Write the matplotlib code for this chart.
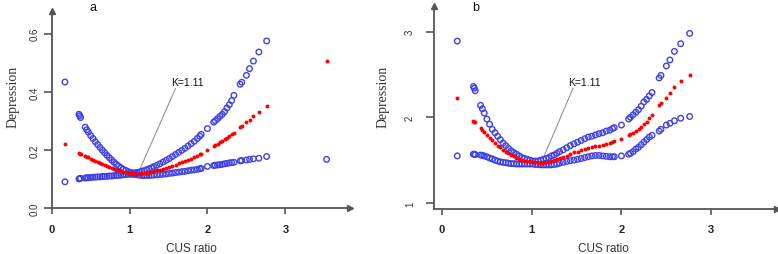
import numpy as np
import matplotlib
matplotlib.use("Agg")
import matplotlib.pyplot as plt

# ---------------- data ----------------
cus_a = [0.17, 0.35, 0.36, 0.37, 0.43, 0.45, 0.47, 0.50, 0.53, 0.56, 0.59, 0.62, 0.65, 0.68,
         0.71, 0.74, 0.77, 0.80, 0.83, 0.86, 0.89, 0.92, 0.95, 0.98, 1.01, 1.04, 1.07, 1.10,
         1.13, 1.16, 1.19, 1.22, 1.25, 1.28, 1.31, 1.35, 1.39, 1.43, 1.47, 1.51, 1.55, 1.59,
         1.63, 1.67, 1.71, 1.75, 1.79, 1.83, 1.87, 1.90, 1.92, 2.00, 2.08, 2.10, 2.13, 2.16,
         2.19, 2.22, 2.25, 2.28, 2.31, 2.34, 2.42, 2.44, 2.50, 2.54, 2.59, 2.66, 2.76, 3.53]
est_a = [0.221, 0.190, 0.188, 0.187, 0.180, 0.177, 0.175, 0.171, 0.167, 0.163, 0.159, 0.155,
         0.152, 0.148, 0.145, 0.142, 0.139, 0.136, 0.133, 0.131, 0.128, 0.126, 0.124, 0.123,
         0.121, 0.120, 0.119, 0.119, 0.119, 0.120, 0.121, 0.122, 0.124, 0.125, 0.127, 0.130,
         0.133, 0.136, 0.139, 0.142, 0.146, 0.150, 0.154, 0.158, 0.162, 0.166, 0.171, 0.176,
         0.181, 0.185, 0.188, 0.201, 0.213, 0.217, 0.222, 0.227, 0.232, 0.237, 0.243, 0.248,
         0.254, 0.260, 0.279, 0.283, 0.296, 0.305, 0.316, 0.332, 0.352, 0.505]
hi_a = [0.434, 0.323, 0.318, 0.312, 0.279, 0.270, 0.262, 0.250, 0.240, 0.229, 0.219, 0.209,
        0.200, 0.191, 0.182, 0.174, 0.166, 0.158, 0.151, 0.145, 0.139, 0.134, 0.130, 0.126,
        0.123, 0.122, 0.122, 0.123, 0.125, 0.127, 0.130, 0.133, 0.136, 0.139, 0.143, 0.148,
        0.153, 0.159, 0.165, 0.171, 0.178, 0.185, 0.192, 0.199, 0.206, 0.214, 0.222, 0.230,
        0.240, 0.248, 0.254, 0.274, 0.296, 0.301, 0.308, 0.316, 0.323, 0.332, 0.345, 0.356,
        0.370, 0.388, 0.426, 0.433, 0.457, 0.480, 0.506, 0.537, 0.575, np.nan]
lo_a = [0.091, 0.101, 0.102, 0.103, 0.104, 0.105, 0.105, 0.106, 0.107, 0.107, 0.108, 0.108,
        0.109, 0.110, 0.110, 0.111, 0.111, 0.112, 0.113, 0.113, 0.114, 0.115, 0.116, 0.117,
        0.117, 0.117, 0.116, 0.115, 0.114, 0.113, 0.113, 0.113, 0.113, 0.114, 0.114, 0.115,
        0.116, 0.117, 0.118, 0.120, 0.121, 0.123, 0.124, 0.126, 0.127, 0.129, 0.131, 0.132,
        0.134, 0.136, 0.137, 0.144, 0.147, 0.148, 0.149, 0.150, 0.151, 0.153, 0.154, 0.156,
        0.157, 0.158, 0.163, 0.164, 0.166, 0.168, 0.170, 0.172, 0.178, 0.168]

cus_b = [0.17, 0.35, 0.36, 0.37, 0.43, 0.45, 0.47, 0.50, 0.53, 0.56, 0.59, 0.62, 0.65, 0.68,
         0.71, 0.74, 0.77, 0.80, 0.83, 0.86, 0.89, 0.92, 0.95, 0.98, 1.01, 1.04, 1.07, 1.10,
         1.13, 1.16, 1.19, 1.22, 1.25, 1.28, 1.31, 1.35, 1.39, 1.43, 1.47, 1.51, 1.55, 1.59,
         1.63, 1.67, 1.71, 1.75, 1.79, 1.83, 1.87, 1.90, 1.92, 2.00, 2.08, 2.10, 2.13, 2.16,
         2.19, 2.22, 2.25, 2.28, 2.31, 2.34, 2.42, 2.44, 2.50, 2.54, 2.59, 2.66, 2.76]
est_b = [2.23, 1.96, 1.95, 1.94, 1.87, 1.85, 1.83, 1.79, 1.76, 1.73, 1.70, 1.67, 1.65, 1.62,
         1.60, 1.58, 1.56, 1.545, 1.53, 1.515, 1.505, 1.495, 1.49, 1.485, 1.48, 1.475, 1.47,
         1.47, 1.47, 1.475, 1.48, 1.49, 1.50, 1.51, 1.52, 1.54, 1.55, 1.57, 1.59, 1.60, 1.62,
         1.63, 1.64, 1.65, 1.66, 1.67, 1.68, 1.69, 1.70, 1.71, 1.72, 1.75, 1.79, 1.80, 1.82,
         1.84, 1.86, 1.89, 1.92, 1.95, 1.99, 2.03, 2.15, 2.17, 2.23, 2.28, 2.35, 2.42, 2.49]
hi_b = [2.89, 2.36, 2.34, 2.31, 2.14, 2.10, 2.05, 1.98, 1.92, 1.86, 1.82, 1.78, 1.74, 1.70,
        1.67, 1.64, 1.61, 1.59, 1.57, 1.55, 1.53, 1.52, 1.51, 1.50, 1.49, 1.49, 1.49, 1.50,
        1.51, 1.52, 1.53, 1.55, 1.56, 1.58, 1.60, 1.62, 1.645, 1.67, 1.69, 1.71, 1.73, 1.75,
        1.77, 1.78, 1.795, 1.81, 1.82, 1.84, 1.85, 1.87, 1.88, 1.91, 1.98, 2.00, 2.03, 2.06,
        2.09, 2.13, 2.18, 2.21, 2.25, 2.29, 2.46, 2.49, 2.60, 2.67, 2.77, 2.86, 2.98]
lo_b = [1.55, 1.57, 1.57, 1.565, 1.56, 1.555, 1.55, 1.54, 1.525, 1.515, 1.50, 1.49, 1.48,
        1.475, 1.47, 1.465, 1.46, 1.46, 1.455, 1.455, 1.455, 1.455, 1.455, 1.455, 1.455, 1.45,
        1.45, 1.445, 1.445, 1.445, 1.445, 1.445, 1.45, 1.455, 1.465, 1.475, 1.485, 1.495, 1.50,
        1.51, 1.52, 1.53, 1.54, 1.55, 1.555, 1.555, 1.55, 1.545, 1.54, 1.54, 1.54, 1.55, 1.57,
        1.58, 1.60, 1.63, 1.65, 1.68, 1.71, 1.74, 1.77, 1.79, 1.84, 1.86, 1.91, 1.93, 1.96,
        1.99, 2.01]

knot = 1.11
yticks_a = [0.0, 0.2, 0.4, 0.6]
yticklabels_a = ["0.0", "0.2", "0.4", "0.6"]
yticks_b = [1, 2, 3]
yticklabels_b = ["1", "2", "3"]
xticks = [0, 1, 2, 3]

# ---------------- figure ----------------
W, H = 778, 255
fig = plt.figure(figsize=(W / 100, H / 100), dpi=100)

BLUE = "#4040e8"
RED = "#ff0000"
AX = "#555555"


def make_panel(rect, xlim, ylim, x, est, lo, hi, yt, ytl, ylab_xy, xlab_xy,
               ktext_xy, kline_from, kline_to, tag, tag_xy, ytick_len, ytick_pad):
    ax = fig.add_axes(rect)
    ax.set_xlim(*xlim)
    ax.set_ylim(*ylim)
    for s in ("top", "right"):
        ax.spines[s].set_visible(False)
    for s in ("left", "bottom"):
        ax.spines[s].set_color(AX)
        ax.spines[s].set_linewidth(1.3)
    # arrow heads
    ax.plot(1, 0, marker=">", color=AX, ms=4, transform=ax.transAxes, clip_on=False)
    ax.plot(0, 1, marker="^", color=AX, ms=4, transform=ax.transAxes, clip_on=False)

    ax.scatter(x, hi, s=16, facecolors="none", edgecolors=BLUE, linewidths=1.0, zorder=3, clip_on=False)
    ax.scatter(x, lo, s=16, facecolors="none", edgecolors=BLUE, linewidths=1.0, zorder=3, clip_on=False)
    ax.scatter(x, est, s=8, color=RED, linewidths=0, zorder=4, clip_on=False)

    ax.set_xticks(xticks)
    ax.set_xticklabels([str(t) for t in xticks], fontsize=8, fontweight="bold",
                       family="Liberation Sans", color="#222222")
    ax.tick_params(axis="x", length=4, width=1.2, color=AX, pad=7)
    ax.set_yticks(yt)
    ax.set_yticklabels(ytl, fontsize=7, family="Liberation Sans", color="#333333")
    ax.tick_params(axis="y", length=ytick_len, width=1.2, color=AX, pad=ytick_pad)
    for t in ax.get_yticklabels():
        t.set_rotation(90)
        t.set_va("center")

    ax.set_ylabel("Depression", family="Liberation Serif", fontsize=10, color="#333333")
    ax.yaxis.label.set_va("center")
    ax.yaxis.set_label_coords(*ylab_xy)
    ax.set_xlabel("CUS ratio", family="Liberation Sans", fontsize=8.5, color="#333333")
    ax.xaxis.label.set_va("center")
    ax.xaxis.set_label_coords(*xlab_xy)

    ax.plot([kline_from[0], kline_to[0]], [kline_from[1], kline_to[1]], color="#888888", lw=0.7, zorder=2)
    ax.text(ktext_xy[0], ktext_xy[1], "K=%.2f" % knot, fontsize=7.5, family="Liberation Sans",
            color="#111111", ha="left", va="bottom")
    ax.text(tag_xy[0], tag_xy[1], tag, transform=fig.transFigure, fontsize=9,
            family="Liberation Sans", color="#111111", ha="center", va="center")
    return ax


make_panel([51.7 / W, (H - 209.3) / H, (350 - 51.7) / W, (209.3 - 12) / H],
           (0, 3.83), (0, 0.678), cus_a, est_a, lo_a, hi_a, yticks_a, yticklabels_a,
           (-0.13, 0.57), (0.469, -0.201),
           (1.53, 0.418), (1.59, 0.412), (1.13, 0.133), "a", (93 / W, 1 - 8 / H), 6, 3)

make_panel([434.3 / W, (H - 210) / H, (776.7 - 434.3) / W, (210 - 7) / H],
           (-0.086, 3.73), (0.93, 3.30), cus_b, est_b, lo_b, hi_b, yticks_b, yticklabels_b,
           (-0.15, 0.557), (0.493, -0.192),
           (1.41, 2.35), (1.46, 2.34), (1.13, 1.53), "b", (476 / W, 1 - 8 / H), 6, 8)

fig.savefig("out.png", dpi=100)
